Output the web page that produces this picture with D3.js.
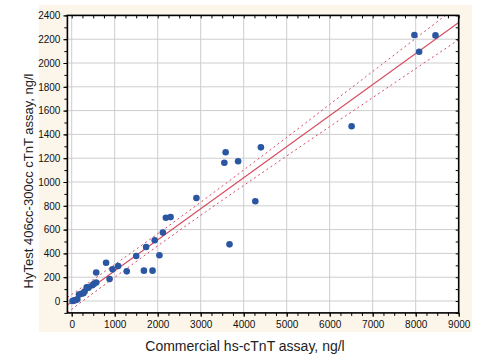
<!DOCTYPE html>
<html><head><meta charset="utf-8">
<script src="https://cdn.jsdelivr.net/npm/d3@7"></script>
<style>body{margin:0;background:#fff;}svg{display:block;font-family:Arial,"Liberation Sans",sans-serif;}</style>
</head><body>
<svg id="c" width="494" height="360"></svg>
<script>
const xValues = [20,60,100,130,170,220,270,300,350,390,480,520,570,570,800,880,950,1080,1280,1500,1680,1730,1880,1930,2040,2120,2190,2300,2900,3550,3580,3670,3870,4270,4400,6510,7970,8080,8460];
const yValues = [0,5,8,15,55,60,65,80,115,112,132,145,155,240,322,185,266,294,249,378,255,454,255,510,384,575,700,705,865,1162,1250,476,1175,838,1291,1468,2235,2095,2232];
const fitX = [-100, 9000];
const fitY = [-34, 2341];
const bandX = [-100,0,1000,2000,3000,4000,5000,6000,7000,8000,9000];
const bandUpper = [30,55,307,565,830,1101,1375,1652,1929,2207,2486];
const bandLower = [-98,-70,199,463,720,971,1219,1465,1709,1953,2196];
const xTicks = [0,1000,2000,3000,4000,5000,6000,7000,8000,9000];
const yTicks = [0,200,400,600,800,1000,1200,1400,1600,1800,2000,2200,2400];
const xLabel = "Commercial hs-cTnT assay, ng/l";
const yLabel = "HyTest 406cc-300cc cTnT assay, ng/l";

const svg = d3.select("#c");
const L = 67.4, R = 458.7, T = 15.4, B = 312.9;
const x = d3.scaleLinear().domain([-100, 9000]).range([L, R]);
const y = d3.scaleLinear().domain([-100, 2400]).range([B, T]);

svg.append("rect").attr("x",39).attr("y",5).attr("width",433).attr("height",327).attr("fill","#fcf6ea");
svg.append("rect").attr("x",L).attr("y",T).attr("width",R-L).attr("height",B-T).attr("fill","#fff");

svg.append("defs").append("clipPath").attr("id","clip").append("rect")
  .attr("x",L).attr("y",T).attr("width",R-L).attr("height",B-T);

// grid
const g = svg.append("g");
g.selectAll(".gx").data(xTicks.filter(d=>d<9000)).enter().append("line")
  .attr("x1",d=>x(d)).attr("x2",d=>x(d)).attr("y1",T).attr("y2",B)
  .attr("stroke","#cdcdcd").attr("stroke-width",1);
g.selectAll(".gy").data(yTicks.filter(d=>d<2400)).enter().append("line")
  .attr("y1",d=>y(d)).attr("y2",d=>y(d)).attr("x1",L).attr("x2",R)
  .attr("stroke","#cdcdcd").attr("stroke-width",1);

// axes
const minorX = d3.range(0, 9001, 250);
const minorY = d3.range(-100, 2401, 100);
const axB = svg.append("g").attr("transform",`translate(0,${B})`)
  .call(d3.axisBottom(x).tickValues(minorX).tickSize(3).tickFormat(""));
const axB2 = svg.append("g").attr("transform",`translate(0,${B})`)
  .call(d3.axisBottom(x).tickValues(xTicks).tickSize(4).tickPadding(4).tickFormat(d3.format("d")));
const axT = svg.append("g").attr("transform",`translate(0,${T})`)
  .call(d3.axisBottom(x).tickValues(minorX).tickSize(3).tickFormat(""));
const axL = svg.append("g").attr("transform",`translate(${L},0)`)
  .call(d3.axisLeft(y).tickValues(minorY).tickSize(3).tickFormat(""));
const axL2 = svg.append("g").attr("transform",`translate(${L},0)`)
  .call(d3.axisLeft(y).tickValues(yTicks).tickSize(4).tickPadding(3).tickFormat(d3.format("d")));
const axR = svg.append("g").attr("transform",`translate(${R},0)`)
  .call(d3.axisLeft(y).tickValues(minorY).tickSize(3).tickFormat(""));
[axB,axB2,axT,axL,axL2,axR].forEach(a=>{
  a.select(".domain").remove();
  a.selectAll("line").attr("stroke","#000");
  a.selectAll("text").attr("font-size","10px").attr("fill","#111").attr("font-family","Arial, 'Liberation Sans', sans-serif");
});

// regression + bands
const cg = svg.append("g").attr("clip-path","url(#clip)");
const band = d3.line().x(d=>x(d[0])).y(d=>y(d[1])).curve(d3.curveMonotoneX);
cg.append("path").datum(bandX.map((v,i)=>[v,bandUpper[i]])).attr("d",band)
  .attr("fill","none").attr("stroke","#d8485e").attr("stroke-width",1).attr("stroke-dasharray","2,3");
cg.append("path").datum(bandX.map((v,i)=>[v,bandLower[i]])).attr("d",band)
  .attr("fill","none").attr("stroke","#d8485e").attr("stroke-width",1).attr("stroke-dasharray","2,3");
cg.append("path").datum(fitX.map((v,i)=>[v,fitY[i]])).attr("d",d3.line().x(d=>x(d[0])).y(d=>y(d[1])))
  .attr("fill","none").attr("stroke","#d8485e").attr("stroke-width",1.1);

// points
svg.append("g").selectAll("circle").data(xValues.map((v,i)=>[v,yValues[i]])).enter().append("circle")
  .attr("cx",d=>x(d[0])).attr("cy",d=>y(d[1])).attr("r",3.3).attr("fill","#2a56a2");

// frame
svg.append("rect").attr("x",L).attr("y",T).attr("width",R-L).attr("height",B-T)
  .attr("fill","none").attr("stroke","#000").attr("stroke-width",1.6);

// labels
svg.append("text").attr("x",245).attr("y",351).attr("text-anchor","middle")
  .attr("font-size","14px").attr("fill","#222").text(xLabel);
svg.append("text").attr("transform","translate(33,181) rotate(-90)").attr("text-anchor","middle")
  .attr("font-size","13px").attr("fill","#222").text(yLabel);
</script>
</body></html>
